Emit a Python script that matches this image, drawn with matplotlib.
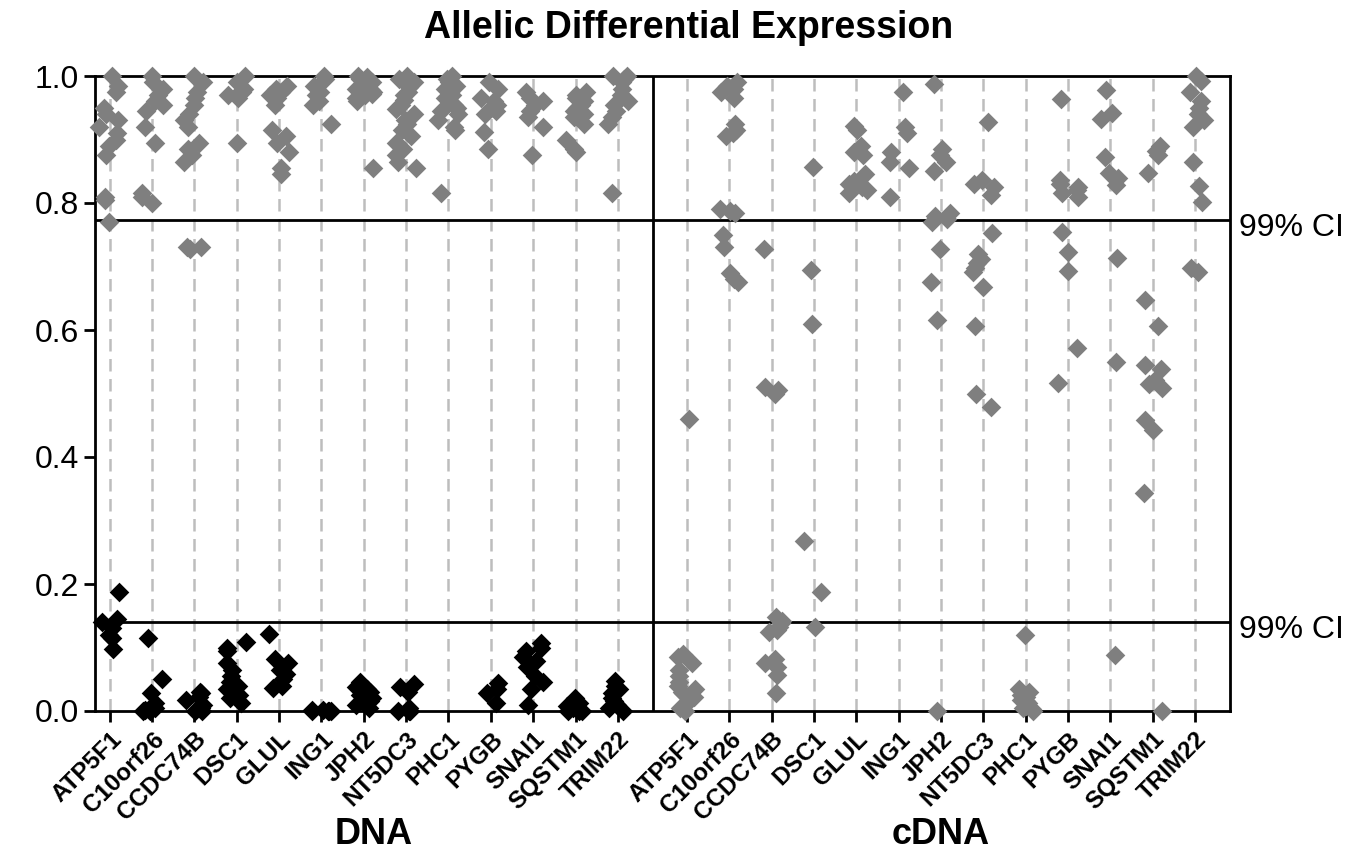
import numpy as np
import matplotlib
matplotlib.use("Agg")
import matplotlib.pyplot as plt

plt.rcParams['font.family'] = ['Liberation Sans', 'DejaVu Sans']

genes = ["ATP5F1", "C10orf26", "CCDC74B", "DSC1", "GLUL", "ING1", "JPH2",
         "NT5DC3", "PHC1", "PYGB", "SNAI1", "SQSTM1", "TRIM22"]

# DNA, heterozygous (grey) allele fractions per gene
dna_grey = [
    [1.0, 0.985, 0.975, 0.95, 0.94, 0.93, 0.92, 0.91, 0.90, 0.89, 0.875, 0.81, 0.805, 0.77],
    [1.0, 0.99, 0.98, 0.97, 0.96, 0.955, 0.945, 0.92, 0.895, 0.815, 0.81, 0.80],
    [1.0, 0.99, 0.975, 0.965, 0.955, 0.94, 0.93, 0.92, 0.895, 0.885, 0.875, 0.865, 0.73, 0.73, 0.728],
    [1.0, 0.99, 0.98, 0.975, 0.975, 0.97, 0.965, 0.895],
    [0.985, 0.98, 0.975, 0.97, 0.965, 0.955, 0.915, 0.905, 0.895, 0.88, 0.855, 0.845],
    [1.0, 0.995, 0.985, 0.975, 0.97, 0.96, 0.955, 0.925],
    [1.0, 0.998, 0.995, 0.99, 0.985, 0.98, 0.978, 0.975, 0.972, 0.97, 0.965, 0.96, 0.855],
    [1.0, 0.995, 0.99, 0.983, 0.975, 0.97, 0.962, 0.955, 0.948, 0.94, 0.93, 0.925, 0.915,
     0.905, 0.895, 0.885, 0.875, 0.865, 0.855],
    [1.0, 0.995, 0.99, 0.985, 0.98, 0.975, 0.97, 0.965, 0.96, 0.955, 0.95, 0.945, 0.94,
     0.93, 0.92, 0.915, 0.815],
    [0.99, 0.98, 0.965, 0.96, 0.955, 0.95, 0.945, 0.94, 0.912, 0.885],
    [0.975, 0.965, 0.96, 0.955, 0.945, 0.935, 0.92, 0.875],
    [0.975, 0.97, 0.965, 0.96, 0.955, 0.95, 0.945, 0.94, 0.935, 0.925, 0.9, 0.885, 0.88],
    [1.0, 1.0, 0.995, 0.99, 0.98, 0.97, 0.96, 0.955, 0.945, 0.935, 0.925, 0.815],
]

# DNA, homozygous (black) allele fractions per gene
dna_black = [
    [0.188, 0.145, 0.14, 0.13, 0.12, 0.115, 0.098],
    [0.115, 0.05, 0.028, 0.012, 0.005, 0.002, 0.0, 0.0],
    [0.03, 0.028, 0.022, 0.018, 0.01, 0.005, 0.0, 0.0],
    [0.108, 0.1, 0.095, 0.075, 0.065, 0.055, 0.045, 0.04, 0.035, 0.025, 0.02, 0.012],
    [0.122, 0.082, 0.075, 0.065, 0.058, 0.05, 0.04, 0.037],
    [0.002, 0.001, 0.0, 0.0, 0.0, 0.0],
    [0.045, 0.042, 0.038, 0.035, 0.03, 0.025, 0.02, 0.015, 0.01, 0.005],
    [0.042, 0.038, 0.03, 0.005, 0.002, 0.0, 0.0, 0.0],
    [],
    [0.044, 0.035, 0.028, 0.012],
    [0.107, 0.1, 0.095, 0.085, 0.078, 0.07, 0.055, 0.045, 0.035, 0.01],
    [0.02, 0.012, 0.008, 0.004, 0.0, 0.0, 0.0],
    [0.048, 0.04, 0.035, 0.028, 0.02, 0.015, 0.01, 0.005, 0.0],
]

# cDNA allele fractions per gene
cdna_grey = [
    [0.46, 0.09, 0.085, 0.075, 0.065, 0.055, 0.045, 0.04, 0.035, 0.03, 0.028, 0.022, 0.015, 0.005, 0.0],
    [0.99, 0.985, 0.98, 0.975, 0.965, 0.925, 0.915, 0.91, 0.905, 0.79, 0.787, 0.785,
     0.75, 0.73, 0.69, 0.68, 0.675],
    [0.727, 0.51, 0.505, 0.50, 0.148, 0.142, 0.138, 0.133, 0.128, 0.125, 0.082, 0.075,
     0.07, 0.057, 0.028],
    [0.857, 0.695, 0.61, 0.268, 0.188, 0.133],
    [0.922, 0.915, 0.89, 0.88, 0.875, 0.845, 0.835, 0.83, 0.825, 0.82, 0.815],
    [0.975, 0.92, 0.91, 0.88, 0.865, 0.855, 0.81],
    [0.988, 0.885, 0.875, 0.865, 0.85, 0.785, 0.78, 0.775, 0.77, 0.727, 0.676, 0.616, 0.0],
    [0.928, 0.836, 0.83, 0.825, 0.812, 0.752, 0.72, 0.712, 0.705, 0.698, 0.692, 0.668,
     0.607, 0.50, 0.478],
    [0.12, 0.035, 0.03, 0.025, 0.022, 0.018, 0.015, 0.012, 0.008, 0.005, 0.003, 0.0],
    [0.963, 0.836, 0.83, 0.825, 0.82, 0.815, 0.81, 0.755, 0.723, 0.693, 0.572, 0.516],
    [0.978, 0.942, 0.932, 0.872, 0.848, 0.84, 0.828, 0.713, 0.55, 0.088],
    [0.89, 0.882, 0.876, 0.848, 0.647, 0.606, 0.545, 0.538, 0.522, 0.515, 0.508, 0.458,
     0.442, 0.343, 0.0],
    [1.0, 0.992, 0.975, 0.96, 0.95, 0.94, 0.93, 0.92, 0.865, 0.826, 0.802, 0.698, 0.692],
]

ci_upper = 0.773
ci_lower = 0.140


def main():
    rng = np.random.default_rng(7)
    fig = plt.figure(figsize=(13.53, 8.59), dpi=100)
    ax = fig.add_axes([95 / 1353, 1 - 711 / 859, 1135 / 1353, 635 / 859])

    dna_x = np.arange(len(genes), dtype=float)
    cdna_x = dna_x + 13.63
    split = 12.83

    for x in np.concatenate([dna_x, cdna_x]):
        ax.axvline(x, color='#bdbdbd', linestyle=(0, (5, 3)), linewidth=1.8, zorder=1)

    def strip(xs, groups, color):
        for x, vals in zip(xs, groups):
            if not vals:
                continue
            jit = rng.uniform(-0.25, 0.25, len(vals))
            ax.scatter(x + jit, vals, marker='D', s=100, color=color,
                       linewidths=0, zorder=3, clip_on=False)

    strip(dna_x, dna_grey, '#7f7f7f')
    strip(dna_x, dna_black, '#000000')
    strip(cdna_x, cdna_grey, '#7f7f7f')

    ax.axhline(ci_upper, color='black', linewidth=2, zorder=2)
    ax.axhline(ci_lower, color='black', linewidth=2, zorder=2)
    ax.axvline(split, color='black', linewidth=2, zorder=2)

    ax.set_xlim(-0.35, 26.46)
    ax.set_ylim(0, 1.0)
    ax.set_yticks([0.0, 0.2, 0.4, 0.6, 0.8, 1.0])
    ax.set_yticklabels(["0.0", "0.2", "0.4", "0.6", "0.8", "1.0"], fontsize=23)
    ax.set_xticks(np.concatenate([dna_x, cdna_x]))
    ax.set_xticklabels(genes + genes, rotation=45, ha='right',
                       rotation_mode='anchor', fontsize=17.5, fontweight='bold')
    ax.tick_params(axis='both', direction='out', length=8, width=2)
    ax.tick_params(axis='x', pad=4)
    for sp in ax.spines.values():
        sp.set_linewidth(2)

    for yv in (ci_upper, ci_lower):
        ax.text(1.008, yv - 0.012, "99% CI", transform=ax.get_yaxis_transform(),
                fontsize=23, va='center', ha='left')

    fig.text(689 / 1353, 1 - 28 / 859, "Allelic Differential Expression",
             fontsize=27, fontweight='bold', ha='center', va='center')
    fig.text(374 / 1353, 1 - 834 / 859, "DNA", fontsize=26, fontweight='bold',
             ha='center', va='center')
    fig.text(941 / 1353, 1 - 834 / 859, "cDNA", fontsize=26, fontweight='bold',
             ha='center', va='center')

    fig.savefig("out.png", dpi=100)
    plt.close(fig)


if __name__ == "__main__":
    main()
